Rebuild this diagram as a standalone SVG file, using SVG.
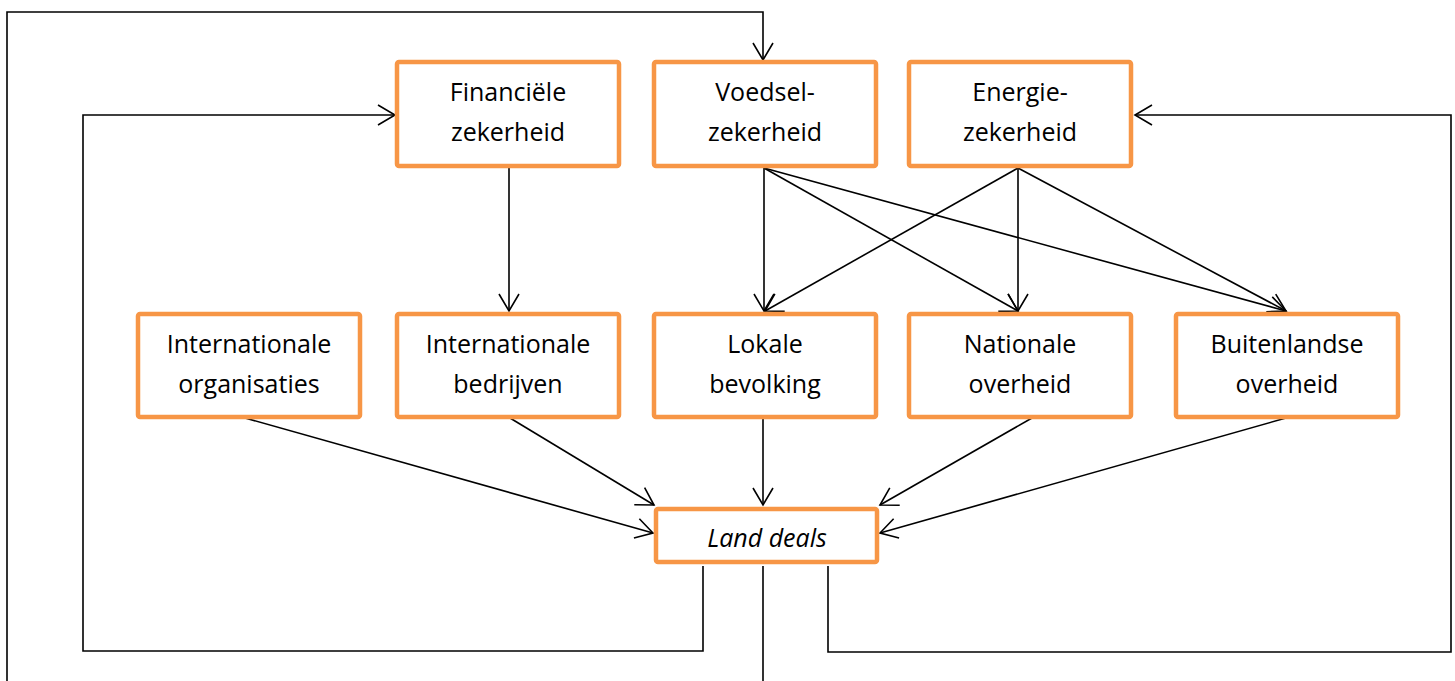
<svg xmlns="http://www.w3.org/2000/svg" width="1455" height="681" viewBox="0 0 1455 681">
<defs>
<marker id="arr" markerUnits="userSpaceOnUse" markerWidth="22" markerHeight="24" refX="18" refY="11" orient="auto" viewBox="0 0 22 24">
<path d="M1,1 L18,11 L1,21" fill="none" stroke="#000" stroke-width="1.6"/>
</marker>
<style>
.box{fill:#fff;stroke:#F79646;stroke-width:4.5}
.t{font-family:"Open Sans","DejaVu Sans",sans-serif;font-size:25px;fill:#000;text-anchor:middle}
.c{fill:none;stroke:#000;stroke-width:1.6}
.a{marker-end:url(#arr)}
</style>
</defs>
<rect width="1455" height="681" fill="#fff"/>
<g id="connectors">
<path class="c a" d="M763,566 V700 H7 V12 H763 V60"/>
<path class="c a" d="M703,566 V651 H83 V115 H395"/>
<path class="c a" d="M828,566 V652 H1451 V115 H1135"/>
<path class="c a" d="M509,168 V311"/>
<path class="c a" d="M764,168 V311"/>
<path class="c a" d="M764,168 L1018,311"/>
<path class="c a" d="M764,168 L1286,311"/>
<path class="c a" d="M1018,168 L765,311"/>
<path class="c a" d="M1018,168 V311"/>
<path class="c a" d="M1018,168 L1286,311"/>
<path class="c a" d="M245,418 L653,533"/>
<path class="c a" d="M510,418 L654,505"/>
<path class="c a" d="M763,418 V505"/>
<path class="c a" d="M1032,418 L880,505"/>
<path class="c a" d="M1286,418 L880,533"/>
</g>
<g id="financiele">
<rect class="box" x="397" y="62" width="222" height="104" rx="2"/>
<text class="t" x="508" y="101">Financiële</text>
<text class="t" x="508" y="141">zekerheid</text>
</g>
<g id="voedsel">
<rect class="box" x="654" y="62" width="222" height="104" rx="2"/>
<text class="t" x="765" y="101">Voedsel-</text>
<text class="t" x="765" y="141">zekerheid</text>
</g>
<g id="energie">
<rect class="box" x="909" y="62" width="222" height="104" rx="2"/>
<text class="t" x="1020" y="101">Energie-</text>
<text class="t" x="1020" y="141">zekerheid</text>
</g>
<g id="intorg">
<rect class="box" x="138" y="314" width="222" height="103" rx="2"/>
<text class="t" x="249" y="353">Internationale</text>
<text class="t" x="249" y="393">organisaties</text>
</g>
<g id="intbedr">
<rect class="box" x="397" y="314" width="222" height="103" rx="2"/>
<text class="t" x="508" y="353">Internationale</text>
<text class="t" x="508" y="393">bedrijven</text>
</g>
<g id="lokale">
<rect class="box" x="654" y="314" width="222" height="103" rx="2"/>
<text class="t" x="765" y="353">Lokale</text>
<text class="t" x="765" y="393">bevolking</text>
</g>
<g id="nationale">
<rect class="box" x="909" y="314" width="222" height="103" rx="2"/>
<text class="t" x="1020" y="353">Nationale</text>
<text class="t" x="1020" y="393">overheid</text>
</g>
<g id="buitenlandse">
<rect class="box" x="1176" y="314" width="222" height="103" rx="2"/>
<text class="t" x="1287" y="353">Buitenlandse</text>
<text class="t" x="1287" y="393">overheid</text>
</g>
<g id="landdeals">
<rect class="box" x="656" y="509" width="221" height="53" rx="2"/>
<text class="t" x="767" y="547" font-style="italic">Land deals</text>
</g>
</svg>
